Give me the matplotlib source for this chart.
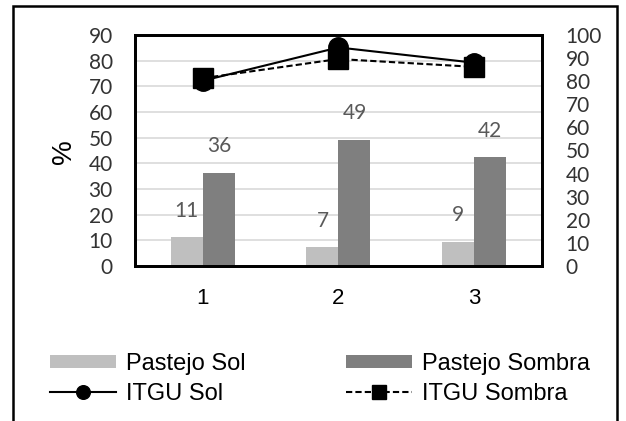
import matplotlib.pyplot as plt
from matplotlib.patches import Rectangle
import numpy as np

# datos
categorias = ['1', '2', '3']
pastejo_sol = [11.2, 7.3, 9.4]
pastejo_sombra = [36.3, 49.2, 42.3]
itgu_sol = [80.2, 94.6, 88.0]
itgu_sombra = [81.3, 89.6, 86.2]

x = np.arange(1, len(categorias) + 1)
ancho = 0.236

fig = plt.figure(figsize=(6.26, 4.21), dpi=100)
ax = fig.add_axes([0.2157, 0.3682, 0.65, 0.5487])
ax2 = ax.twinx()

fuente_num = 'Lato'
fuente_txt = 'Liberation Sans'

# barras
b1 = ax.bar(x - ancho / 2, pastejo_sol, ancho, color='#bfbfbf', label='Pastejo Sol', zorder=2)
b2 = ax.bar(x + ancho / 2, pastejo_sombra, ancho, color='#7f7f7f', label='Pastejo Sombra', zorder=2)

for barras in (b1, b2):
    for r in barras:
        ax.annotate(f'{r.get_height():.0f}', (r.get_x() + r.get_width() / 2, r.get_height()),
                    xytext=(0, 12), textcoords='offset points', ha='center', va='bottom',
                    color='#595959', fontsize=15, family=fuente_num)

# lineas ITGU en el eje secundario
l1, = ax2.plot(x, itgu_sol, color='black', lw=1.5, marker='o', ms=14, label='ITGU Sol')
l2, = ax2.plot(x, itgu_sombra, color='black', lw=1.5, ls=(0, (3, 1.5)), marker='s', ms=15,
               label='ITGU Sombra')

ax.set_xlim(0.5, 3.5)
ax.set_ylim(0, 90)
ax2.set_ylim(0, 100)
ax.set_yticks(np.arange(0, 91, 10))
ax2.set_yticks(np.arange(0, 101, 10))
ax.set_xticks(x)
ax.set_xticklabels(categorias)

ax.grid(axis='y', color='#d9d9d9', lw=1.2, zorder=0)
ax.set_axisbelow(True)

ax.tick_params(axis='y', length=0, pad=16, labelsize=15, labelcolor='#333333')
ax2.tick_params(axis='y', length=0, pad=17, labelsize=15, labelcolor='#333333')
ax.tick_params(axis='x', length=0, pad=16, labelsize=16)
for t in ax.get_yticklabels() + ax2.get_yticklabels():
    t.set_family(fuente_num)
for t in ax.get_xticklabels():
    t.set_family(fuente_txt)

for eje in (ax, ax2):
    for s in eje.spines.values():
        s.set_linewidth(2)
        s.set_color('black')

fig.text(64 / 626, 1 - 152 / 421, '%', rotation=90, ha='center', va='center',
         fontsize=20, family=fuente_txt)

# leyenda en dos columnas
opciones = dict(frameon=False, prop={'family': fuente_txt, 'size': 17},
                handlelength=2.8, handleheight=0.42, handletextpad=0.4,
                labelspacing=0.32, borderpad=0, borderaxespad=0, markerscale=0.7)
fig.legend([b1, l1], ['Pastejo Sol', 'ITGU Sol'], loc='upper left',
           bbox_to_anchor=(50 / 626, 1 - 353 / 421), **opciones)
fig.legend([b2, l2], ['Pastejo Sombra', 'ITGU Sombra'], loc='upper left',
           bbox_to_anchor=(346 / 626, 1 - 353 / 421), **opciones)

# marco exterior
fig.patches.append(Rectangle((13 / 626, -0.1), 604 / 626, 1.1 - 6 / 421, transform=fig.transFigure,
                             fill=False, edgecolor='black', lw=1.8))

fig.savefig('out.png', dpi=100)
